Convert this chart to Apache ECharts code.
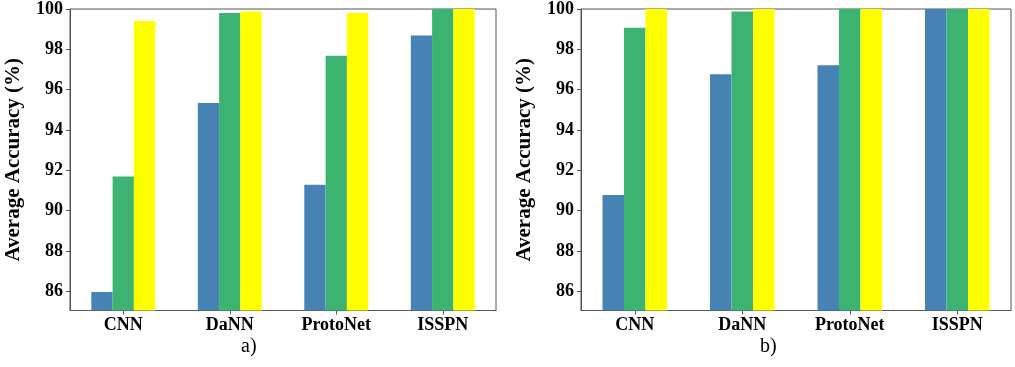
<!DOCTYPE html>
<html>
<head>
<meta charset="utf-8">
<script src="https://cdn.jsdelivr.net/npm/echarts@6/dist/echarts.min.js"></script>
<style>
  html, body { margin: 0; padding: 0; background: #fff; }
  #chart { width: 1015px; height: 367px; }
</style>
</head>
<body>
<div id="chart"></div>
<script>
// Methods compared in both panels
const categories = ['CNN', 'DaNN', 'ProtoNet', 'ISSPN'];
// Average accuracy (%) for panel a)
const panelA1 = [85.97, 95.34, 91.29, 98.68];
const panelA2 = [91.69, 99.80, 97.68, 100];
const panelA3 = [99.40, 99.87, 99.80, 100];
// Average accuracy (%) for panel b)
const panelB1 = [90.78, 96.76, 97.21, 100];
const panelB2 = [99.07, 99.87, 100, 100];
const panelB3 = [100, 100, 100, 100];
// Y tick labels
const yTicks = [86, 88, 90, 92, 94, 96, 98, 100];
const panelLabels = ['a)', 'b)'];

const colors = ['#4682B4', '#3CB371', '#FFFF00'];
const serif = '"Liberation Serif", "DejaVu Serif", serif';
const axisColor = '#555';

function xAxisFor(gridIndex) {
  return {
    type: 'category', gridIndex, data: categories,
    axisLine: { show: true, lineStyle: { color: axisColor, width: 1 } },
    axisTick: { show: true, alignWithLabel: true, length: 4, lineStyle: { color: axisColor } },
    axisLabel: { color: '#000', fontFamily: serif, fontWeight: 'bold', fontSize: 18, margin: 6 }
  };
}
function yAxisFor(gridIndex) {
  return {
    type: 'value', gridIndex, min: 85.05, max: 100,
    name: 'Average Accuracy (%)', nameLocation: 'middle', nameGap: 46,
    nameTextStyle: { color: '#000', fontFamily: serif, fontWeight: 'bold', fontSize: 21 },
    splitLine: { show: false },
    axisLine: { show: true, lineStyle: { color: axisColor, width: 1 } },
    axisTick: { show: true, length: 4, customValues: yTicks, lineStyle: { color: axisColor } },
    axisLabel: { color: '#000', fontFamily: serif, fontWeight: 'bold', fontSize: 18, margin: 7, customValues: yTicks }
  };
}
function barsFor(idx, arrays) {
  return arrays.map((arr, i) => ({
    type: 'bar', xAxisIndex: idx, yAxisIndex: idx, data: arr,
    barWidth: '20%', barGap: '0%',
    itemStyle: { color: colors[i] },
    silent: true
  }));
}

const chart = echarts.init(document.getElementById('chart'), null, { renderer: 'canvas' });
chart.setOption({
  animation: false,
  backgroundColor: '#fff',
  grid: [
    { left: 70, right: 519, top: 8, bottom: 56.5, show: true, borderColor: axisColor, borderWidth: 1 },
    { left: 581, right: 4, top: 8, bottom: 56.5, show: true, borderColor: axisColor, borderWidth: 1 }
  ],
  xAxis: [xAxisFor(0), xAxisFor(1)],
  yAxis: [yAxisFor(0), yAxisFor(1)],
  series: [...barsFor(0, [panelA1, panelA2, panelA3]), ...barsFor(1, [panelB1, panelB2, panelB3])],
  graphic: [
    { type: 'text', left: 241, top: 337, style: { text: panelLabels[0], font: '20px ' + serif, fill: '#000' } },
    { type: 'text', left: 760, top: 337, style: { text: panelLabels[1], font: '20px ' + serif, fill: '#000' } }
  ]
});
</script>
</body>
</html>
